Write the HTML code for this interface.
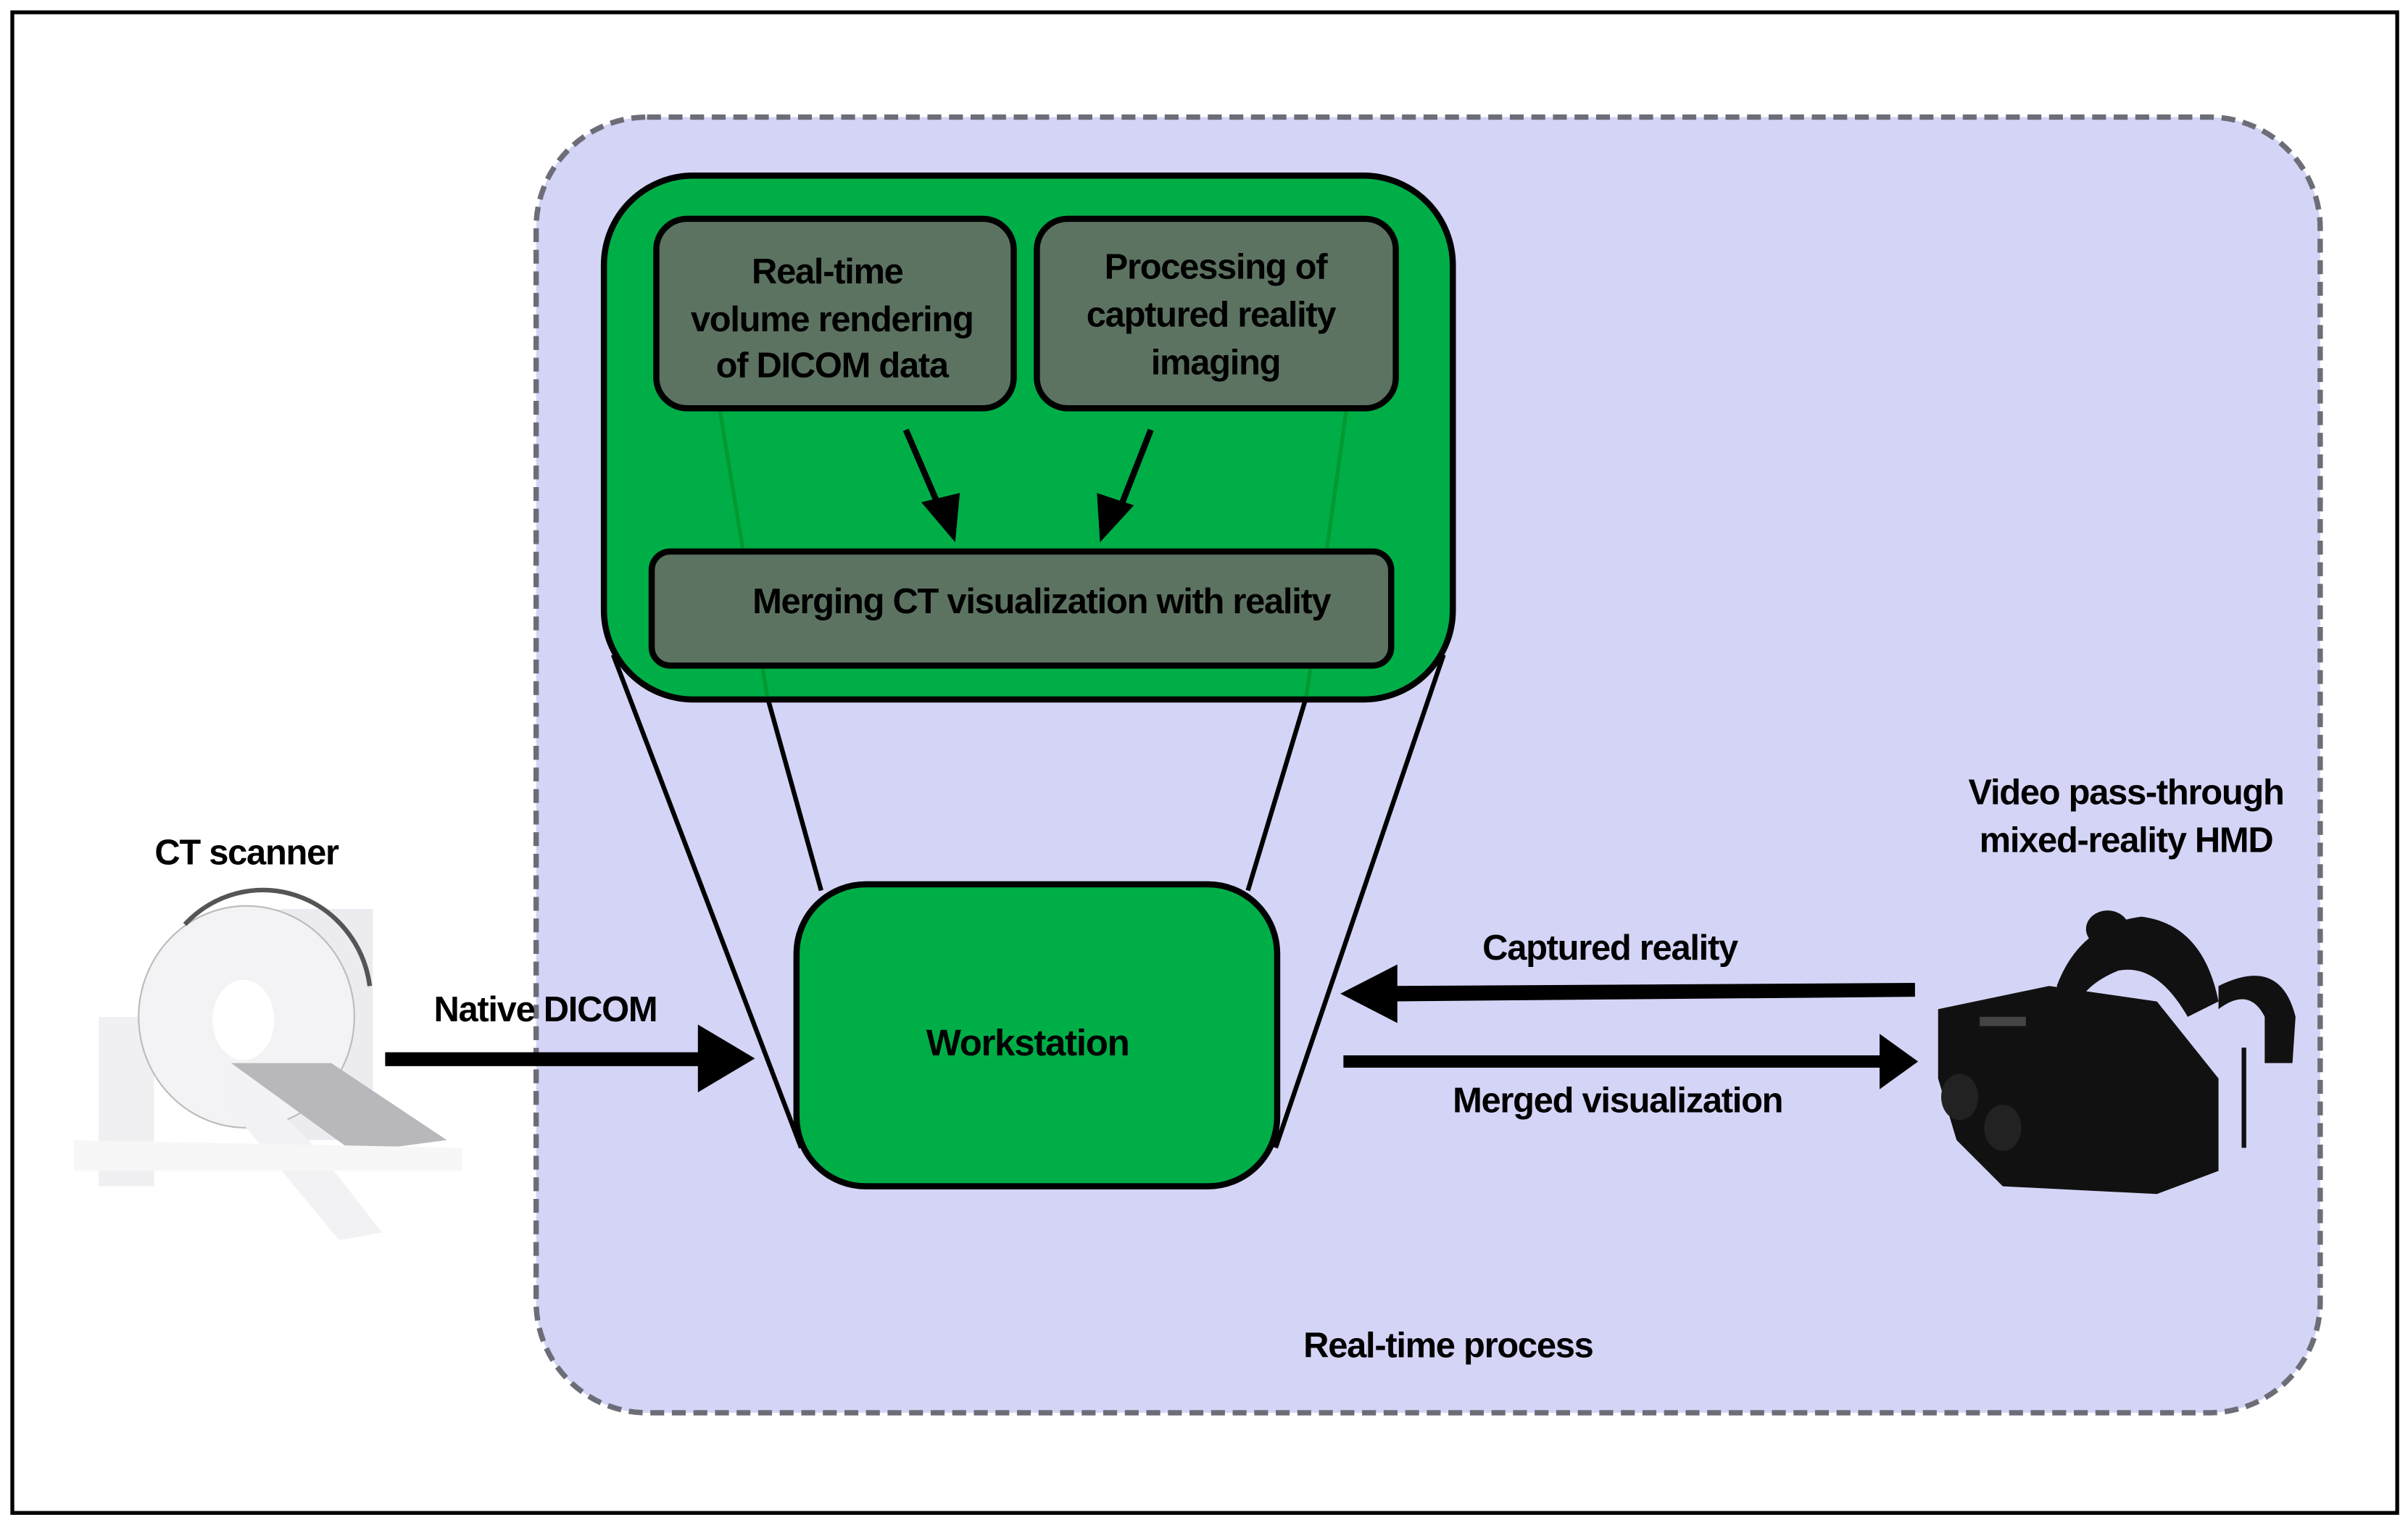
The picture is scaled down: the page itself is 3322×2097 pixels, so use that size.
<!DOCTYPE html>
<html><head><meta charset="utf-8"><style>
html,body{margin:0;padding:0;background:#fff;}
svg{display:block;}
text{font-family:"Liberation Sans",Arial,sans-serif;font-weight:bold;fill:#000;letter-spacing:-0.6px;}
</style></head><body>
<svg width="3322" height="2097" viewBox="0 0 1563 986.6" preserveAspectRatio="none" xmlns="http://www.w3.org/2000/svg">
<rect x="0" y="0" width="1563" height="986.6" fill="#fff"/>
<rect x="8" y="8" width="1548" height="974" fill="none" stroke="#000" stroke-width="2.5"/>
<!-- dashed process area -->
<rect x="348" y="76" width="1158" height="841" rx="72" fill="#d4d4f6" stroke="#6d6d78" stroke-width="3.5" stroke-dasharray="9,5"/>
<!-- trapezoid lines -->
<g stroke="#000" stroke-width="3" fill="none">
<line x1="398" y1="425" x2="520" y2="745"/>
<line x1="498" y1="452" x2="533" y2="578"/>
<line x1="937" y1="425" x2="828" y2="745"/>
<line x1="848" y1="452" x2="810" y2="578"/>
</g>
<!-- green box -->
<rect x="392" y="114" width="551" height="340" rx="58" fill="#00ae48" stroke="#000" stroke-width="4"/>
<g stroke="#009a30" stroke-width="2.5">
<line x1="448" y1="150" x2="498" y2="452"/>
<line x1="890" y1="150" x2="848" y2="452"/>
</g>
<g fill="#607163" fill-opacity="0.97" stroke="#000" stroke-width="4">
<rect x="426" y="142" width="232" height="123" rx="20"/>
<rect x="673" y="142" width="233" height="123" rx="20"/>
<rect x="423" y="358" width="480" height="74" rx="12"/>
</g>
<text x="537" y="184" font-size="23" text-anchor="middle">Real-time</text>
<text x="540" y="215" font-size="23" text-anchor="middle">volume rendering</text>
<text x="540" y="245" font-size="23" text-anchor="middle">of DICOM data</text>
<text x="789" y="181" font-size="23" text-anchor="middle">Processing of</text>
<text x="786" y="212" font-size="23" text-anchor="middle">captured reality</text>
<text x="789" y="243" font-size="23" text-anchor="middle">imaging</text>
<text x="676" y="398" font-size="23" text-anchor="middle">Merging CT visualization with reality</text>
<!-- inner arrows -->
<g stroke="#000" stroke-width="4">
<line x1="588" y1="279" x2="610" y2="330"/>
<line x1="747" y1="279" x2="727" y2="330"/>
</g>
<polygon points="598,326 623,320 620,352" fill="#000"/>
<polygon points="712,320 736,328 714,352" fill="#000"/>
<!-- workstation -->
<rect x="517" y="574" width="312" height="196" rx="45" fill="#00ae48" stroke="#000" stroke-width="4"/>
<text x="667" y="685" font-size="24" text-anchor="middle">Workstation</text>
<!-- Native DICOM arrow -->
<rect x="250" y="683" width="210" height="9" fill="#000"/>
<polygon points="453,665 490,687 453,709" fill="#000"/>
<text x="354" y="663" font-size="23" text-anchor="middle">Native DICOM</text>
<!-- captured reality -->
<polygon points="900,640 1243,638 1243,647 900,650" fill="#000"/>
<polygon points="907,626 870,645 907,664" fill="#000"/>
<text x="1045" y="623" font-size="23" text-anchor="middle">Captured reality</text>
<!-- merged -->
<rect x="872" y="685" width="350" height="8" fill="#000"/>
<polygon points="1220,671 1245,689 1220,707" fill="#000"/>
<text x="1050" y="722" font-size="23" text-anchor="middle">Merged visualization</text>
<text x="940" y="881" font-size="23" text-anchor="middle">Real-time process</text>
<text x="160" y="561" font-size="23" text-anchor="middle">CT scanner</text>
<text x="1380" y="522" font-size="23" text-anchor="middle">Video pass-through</text>
<text x="1380" y="553" font-size="23" text-anchor="middle">mixed-reality HMD</text>
<!-- CT scanner drawing -->
<g>
<polygon points="180,590 242,590 242,740 180,740" fill="#ececf0"/>
<polygon points="64,660 100,660 100,770 64,770" fill="#f0f0f2"/>
<ellipse cx="160" cy="660" rx="70" ry="72" fill="#f3f3f5" stroke="#bbb" stroke-width="1"/>
<path d="M120,600 A70,72 0 0 1 240,640" fill="none" stroke="#555" stroke-width="3"/>
<ellipse cx="158" cy="662" rx="20" ry="26" fill="#fff"/>
<polygon points="150,690 215,690 290,740 230,748" fill="#b8b8bc"/>
<polygon points="150,690 205,745 248,800 220,805 150,720" fill="#f2f2f4"/>
<polygon points="48,740 300,745 300,760 48,760" fill="#f7f7f8"/>
</g>
<!-- HMD drawing -->
<g fill="#111">
<path d="M1258,655 L1330,640 L1400,650 L1440,700 L1440,760 L1400,775 L1300,770 L1270,740 L1258,700 Z"/>
<path d="M1335,640 Q1350,600 1390,595 Q1430,600 1440,650 L1420,660 Q1400,625 1375,630 Q1350,640 1345,660 Z"/>
<ellipse cx="1368" cy="603" rx="14" ry="12"/>
<path d="M1440,640 Q1480,620 1490,660 L1488,690 L1470,690 L1470,660 Q1460,640 1440,655 Z"/>
<rect x="1455" y="680" width="3" height="65"/>
<ellipse cx="1272" cy="712" rx="12" ry="15" fill="#222"/>
<ellipse cx="1300" cy="732" rx="12" ry="15" fill="#222"/>
<rect x="1285" y="660" width="30" height="6" fill="#444"/>
</g>
</svg>
</body></html>
